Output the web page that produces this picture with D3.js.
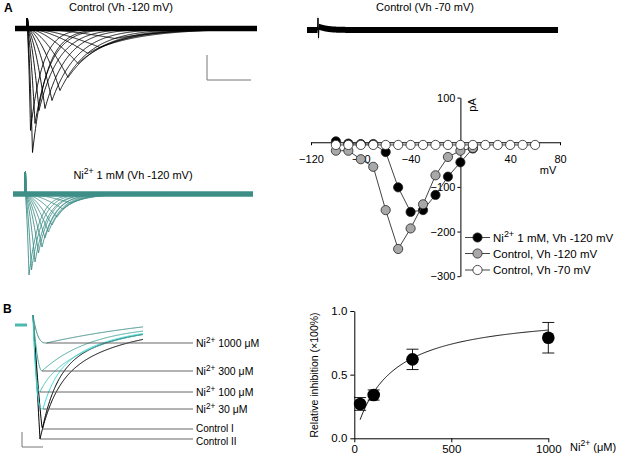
<!DOCTYPE html>
<html><head><meta charset="utf-8">
<script src="https://cdn.jsdelivr.net/npm/d3@7"></script>
<style>
body{margin:0;background:#fff}
svg{display:block}
text{font-family:"Liberation Sans",Arial,Helvetica,sans-serif;fill:#000}
</style>
</head><body>
<svg id="c" width="620" height="460"></svg>
<script>
// ================= DATA =================
// I-V relationship (mV, pA)
const ivVoltCtrl70 = [-100,-90,-80,-70,-60,-50,-40,-30,-20,-10,0,10,20,30,40,50,60];
const ivCurCtrl70  = [-6,-6,-6,-6,-6,-6,-6,-6,-6,-6,-6,-6,-6,-6,-6,-6,-6];
const ivVoltCtrl120 = [-100,-90,-80,-70,-60,-50,-40,-30,-20,-10,0,10];
const ivCurCtrl120  = [-19,-19,-38,-55,-152,-239,-193,-139,-74,-33,-19,-13];
const ivVoltNi = [-100,-90,-80,-70,-60,-50,-40,-30,-20,-10,0,10];
const ivCurNi  = [2,-3,-4,-4,-22,-101,-156,-152,-118,-77,-45,-14];
const ivXTicks = [-120,-80,-40,40,80];
const ivYTicks = [100,-100,-200,-300];
const ivLegend = ["1 mM, Vh -120 mV","Control, Vh -120 mV","Control, Vh -70 mV"];

// Current-trace families (time in ms after the step, peak current in pA, decay tau in ms)
const ctrlPeakTime = [5.5,3.5,8,12,18,25,33,41,51,61,73,88];
const ctrlPeakAmp  = [-496,-408,-380,-328,-320,-288,-248,-196,-140,-100,-76,-40];
const ctrlTau      = [14,12,16,20,22,26,30,34,38,42,48,55];
const ctrlSpike = 40, ctrlNoise = 11;

const niPeakTime = [4,6.5,10,13.5,17,20,23.5,27,32,38,46];
const niPeakAmp  = [-324,-304,-272,-236,-212,-176,-152,-124,-92,-60,-36];
const niTau      = [10,11,12,12,13,13,14,15,16,18,20];
const niSpike = 88, niNoise = 11;

const ctrl70Spike = [48,-32];
const ctrl70Transient = 15, ctrl70Noise = 12;

// Panel B superimposed traces
const bNames    = ["1000 μM","300 μM","100 μM","30 μM","Control I","Control II"];
const bIsNi     = [true,true,true,true,false,false];
const bColors   = ["#3f8f88","#47a99b","#4cc6ba","#33dcdc","#000","#000"];
const bPeakTime = [13.5,9,7,10,9.3,7];
const bPeakAmp  = [-72,-184,-268,-336,-416,-456];
const bOnsetK   = [3,2,2.5,3,1.2,1];
const bSlowAmp  = [136,184,232,210,200,250];
const bSlowTau  = [150,50,57,55,60,70];
const bFastTau  = [6,8,8,12,14,15];
const bOffset   = [64,0,0,0,0,0];
const bStart = 40;

// Dose-response
const doseConc = [30,100,300,1000];
const doseInh  = [0.27,0.34,0.62,0.79];
const doseErr  = [0.05,0.04,0.08,0.12];
const fitIC50 = 176, fitHill = 1, fitMax = 1;
const doseXTicks = [0,500,1000];
const doseYTicks = [0,0.5,1.0];

// ================= DRAW =================
const svg = d3.select("#c");

svg.append("text").attr("x",4).attr("y",12).attr("font-size",12).attr("font-weight","bold").text("A");
svg.append("text").attr("x",3).attr("y",313).attr("font-size",12).attr("font-weight","bold").text("B");

function supLabel(g, x, y, size, pre, sup, post, anchor){
  const t = g.append("text").attr("x",x).attr("y",y).attr("font-size",size);
  if(anchor) t.attr("text-anchor",anchor);
  t.append("tspan").text(pre);
  t.append("tspan").attr("font-size",size*0.78).attr("dy",-size*0.42).text(sup);
  t.append("tspan").attr("dy",size*0.42).text(post);
  return t;
}

function famVal(t, tp, amp, tau, spike){
  if(t < 0) return 0;
  if(t < 0.6) return spike;
  if(t <= tp) return amp*Math.pow(t/tp,1.6);
  return amp*Math.exp(-(t-tp)/tau);
}

function drawFamily(xs, ys, times, peakT, peakA, taus, spike, noise, color){
  const g = svg.append("g");
  const band = d3.area().x(d=>xs(d)).y0(ys(noise)).y1(ys(-noise));
  g.append("path").attr("d",band(times)).attr("fill",color);
  peakT.forEach((tp,i)=>{
    const line = d3.line().x(d=>xs(d)).y(d=>ys(famVal(d,tp,peakA[i],taus[i],spike)));
    g.append("path").attr("d",line(times)).attr("fill","none").attr("stroke",color).attr("stroke-width",0.9);
  });
  return g;
}

// Control Vh -120
const cX = d3.scaleLinear().domain([-12,230]).range([15,257]);
const cY = d3.scaleLinear().domain([0,-500]).range([28.5,153.5]);
drawFamily(cX,cY,d3.range(-12,230.01,0.5),ctrlPeakTime,ctrlPeakAmp,ctrlTau,ctrlSpike,ctrlNoise,"#000");
svg.append("text").attr("x",121).attr("y",11).attr("font-size",11).attr("text-anchor","middle").text("Control (Vh -120 mV)");
svg.append("path").attr("d","M207,55V80H251").attr("fill","none").attr("stroke","#777").attr("stroke-width",1);

// Ni 1 mM Vh -120
const nX = d3.scaleLinear().domain([-12,228]).range([13,253]);
const nY = d3.scaleLinear().domain([0,-500]).range([194,319]);
drawFamily(nX,nY,d3.range(-12,228.01,0.5),niPeakTime,niPeakAmp,niTau,niSpike,niNoise,"#3e8e88");
supLabel(svg,133,179,11,"Ni","2+"," 1 mM (Vh -120 mV)","middle");

// Control Vh -70
const sX = d3.scaleLinear().domain([-11,240]).range([307,558]);
const sY = d3.scaleLinear().domain([0,-500]).range([30,155]);
{
  const times = d3.range(-11,240.01,0.5);
  const f = t => t<0?0:(t<0.5?ctrl70Spike[0]:(t<1?ctrl70Spike[1]:ctrl70Transient*Math.exp(-t/8)));
  svg.append("path").attr("d",d3.area().x(d=>sX(d)).y0(d=>sY(f(d)+ctrl70Noise)).y1(d=>sY(f(d)-ctrl70Noise))(times)).attr("fill","#000");
  svg.append("path").attr("d",d3.line().x(d=>sX(d)).y(d=>sY(f(d)))(times)).attr("fill","none").attr("stroke","#000").attr("stroke-width",1);
}
svg.append("text").attr("x",425).attr("y",11).attr("font-size",11).attr("text-anchor","middle").text("Control (Vh -70 mV)");

// ---- IV plot
const ivX = d3.scaleLinear().domain([-120,80]).range([311,560]);
const ivY = d3.scaleLinear().domain([-300,100]).range([276.2,97.6]);
{
  const gx = svg.append("g").attr("transform",`translate(0,${ivY(0)})`)
    .call(d3.axisBottom(ivX).tickValues(ivXTicks).tickSize(3).tickSizeOuter(0).tickPadding(10));
  const gy = svg.append("g").attr("transform",`translate(${ivX(0)},0)`)
    .call(d3.axisLeft(ivY).tickValues(ivYTicks).tickSize(3).tickSizeOuter(0).tickPadding(2));
  [gx,gy].forEach(g=>{g.selectAll("text").attr("font-size",11).attr("font-family",null);
    g.selectAll("path,line").attr("stroke","#000");});
  svg.append("text").attr("x",548).attr("y",174).attr("font-size",11).attr("text-anchor","middle").text("mV");
  svg.append("text").attr("transform",`translate(476,105) rotate(-90)`).attr("font-size",11).attr("text-anchor","middle").text("pA");

  const series = [
    {v:ivVoltNi,i:ivCurNi,fill:"#000"},
    {v:ivVoltCtrl120,i:ivCurCtrl120,fill:"#a8a8a8"},
    {v:ivVoltCtrl70,i:ivCurCtrl70,fill:"#fff"}
  ];
  const ln = d3.line().x(d=>ivX(d[0])).y(d=>ivY(d[1]));
  series.forEach(s=>{
    const pts = s.v.map((v,k)=>[v,s.i[k]]);
    svg.append("path").attr("d",ln(pts)).attr("fill","none").attr("stroke","#444").attr("stroke-width",1);
    svg.selectAll(null).data(pts).enter().append("circle")
      .attr("cx",d=>ivX(d[0])).attr("cy",d=>ivY(d[1])).attr("r",4.6)
      .attr("fill",s.fill).attr("stroke","#222").attr("stroke-width",0.8);
  });
  const ly = [237.5,253.5,270];
  series.forEach((s,k)=>{
    svg.append("line").attr("x1",465).attr("x2",490).attr("y1",ly[k]).attr("y2",ly[k]).attr("stroke","#444");
    svg.append("circle").attr("cx",477.5).attr("cy",ly[k]).attr("r",4.6).attr("fill",s.fill).attr("stroke","#222").attr("stroke-width",0.8);
  });
  supLabel(svg,493,ly[0]+4,11.5,"Ni","2+"," "+ivLegend[0]);
  svg.append("text").attr("x",493).attr("y",ly[1]+4).attr("font-size",11.5).text(ivLegend[1]);
  svg.append("text").attr("x",493).attr("y",ly[2]+4).attr("font-size",11.5).text(ivLegend[2]);
}

// ---- Panel B traces
const bX = d3.scaleLinear().domain([0,110]).range([33,143]);
const bY = d3.scaleLinear().domain([0,-500]).range([325,450]);
function bVal(k,t){
  const tp=bPeakTime[k], pk=bPeakAmp[k];
  if(t<=tp){ const u=t/tp; const s=1-Math.pow(1-u,bOnsetK[k]); return bStart+(pk-bStart)*s; }
  const dt=t-tp; const fast=bOffset[k]-pk-bSlowAmp[k];
  return bOffset[k]-bSlowAmp[k]*Math.exp(-dt/bSlowTau[k])-fast*Math.exp(-dt/bFastTau[k]);
}
{
  svg.append("line").attr("x1",15).attr("x2",27).attr("y1",bY(0)).attr("y2",bY(0)).attr("stroke","#4cb8ae").attr("stroke-width",3);
  const times = d3.range(0,110.01,0.5);
  [5,4,3,2,1,0].forEach(k=>{
    const line=d3.line().x(d=>bX(d)).y(d=>bY(bVal(k,d)));
    svg.append("path").attr("d",line(times)).attr("fill","none").attr("stroke",bColors[k]).attr("stroke-width",1);
  });
  const labelShift = [4,4,4,4,2.5,5.5];
  bNames.forEach((nm,k)=>{
    const y=bY(bPeakAmp[k]), x=bX(bPeakTime[k]);
    svg.append("line").attr("x1",x).attr("x2",193).attr("y1",y).attr("y2",y).attr("stroke","#555").attr("stroke-width",0.9);
    if(bIsNi[k]) supLabel(svg,196,y+labelShift[k],10.5,"Ni","2+"," "+nm);
    else svg.append("text").attr("x",196).attr("y",y+labelShift[k]).attr("font-size",10).text(nm);
  });
  svg.append("path").attr("d","M22,432V447H43").attr("fill","none").attr("stroke","#777").attr("stroke-width",1);
}

// ---- Dose response
const dX = d3.scaleLinear().domain([0,1000]).range([354.3,548.3]);
const dY = d3.scaleLinear().domain([0,1]).range([438.3,311]);
{
  const gx = svg.append("g").attr("transform",`translate(0,${dY(0)})`)
    .call(d3.axisBottom(dX).tickValues(doseXTicks).tickFormat(d3.format("d")).tickSize(4).tickSizeOuter(0).tickPadding(3));
  const gy = svg.append("g").attr("transform",`translate(${dX(0)},0)`)
    .call(d3.axisLeft(dY).tickValues(doseYTicks).tickFormat(d3.format(".1f")).tickSize(4).tickSizeOuter(0).tickPadding(3));
  [gx,gy].forEach(g=>{g.selectAll("text").attr("font-size",11.5).attr("font-family",null);
    g.selectAll("path,line").attr("stroke","#000");});
  svg.append("text").attr("transform","translate(318,375) rotate(-90)").attr("font-size",10.5).attr("text-anchor","middle").text("Relative inhibition (×100%)");
  supLabel(svg,570,451,11,"Ni","2+"," (μM)");
  const fit = d3.range(30,1000.1,5).map(c=>[c,fitMax*Math.pow(c,fitHill)/(Math.pow(c,fitHill)+Math.pow(fitIC50,fitHill))]);
  svg.append("path").attr("d",d3.line().x(d=>dX(d[0])).y(d=>dY(d[1]))(fit)).attr("fill","none").attr("stroke","#000").attr("stroke-width",0.9);
  doseConc.forEach((c,k)=>{
    const x=dX(c), y1=dY(doseInh[k]-doseErr[k]), y2=dY(doseInh[k]+doseErr[k]);
    svg.append("path").attr("d",`M${x},${y1}V${y2}M${x-6},${y1}H${x+6}M${x-6},${y2}H${x+6}`).attr("stroke","#000").attr("fill","none").attr("stroke-width",0.9);
    svg.append("circle").attr("cx",x).attr("cy",dY(doseInh[k])).attr("r",6.3).attr("fill","#000");
  });
}
</script>
</body></html>
